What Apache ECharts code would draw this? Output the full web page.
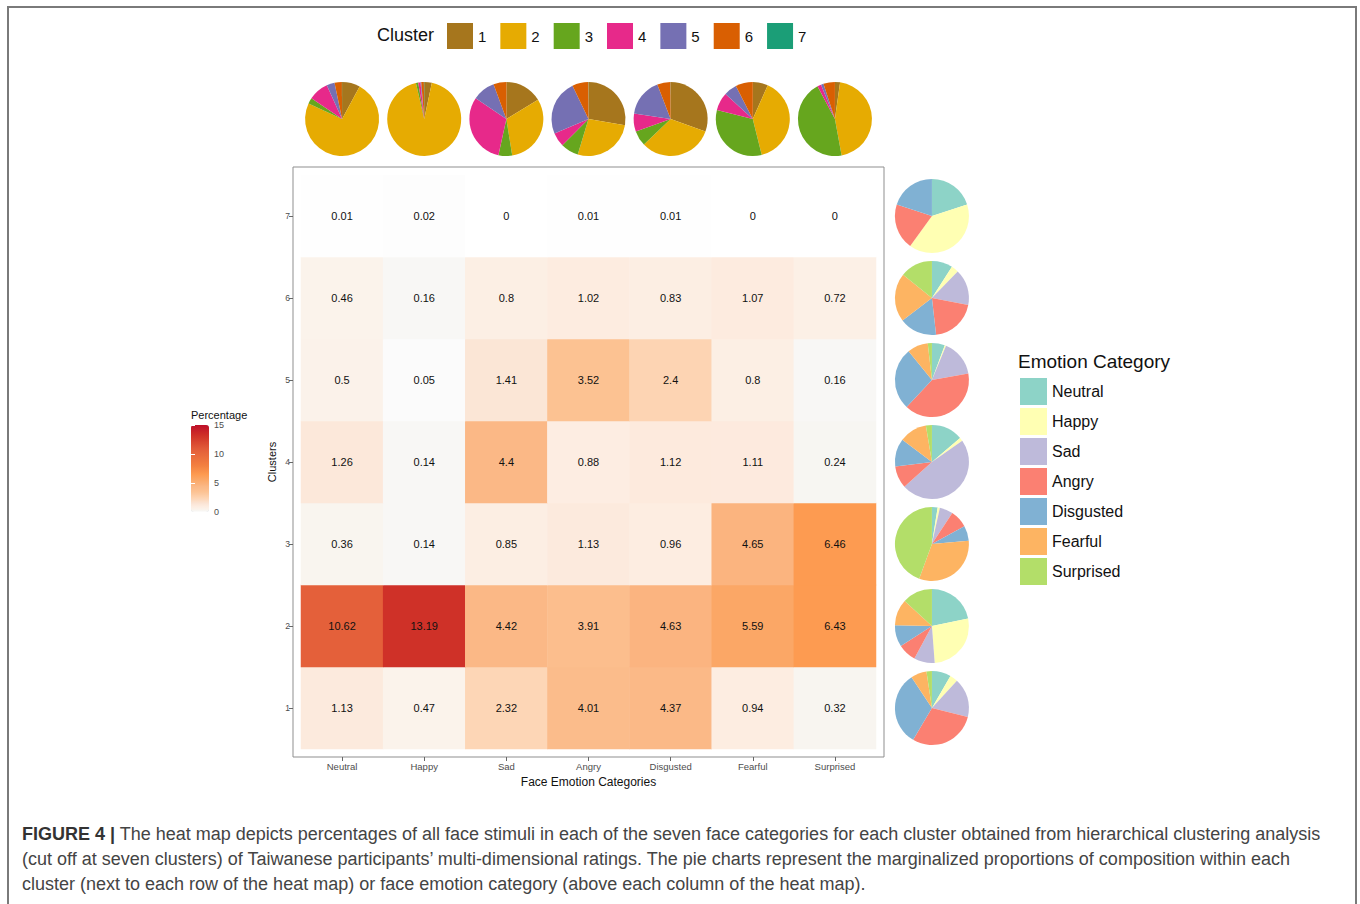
<!DOCTYPE html>
<html>
<head>
<meta charset="utf-8">
<script src="https://cdn.jsdelivr.net/npm/echarts@6/dist/echarts.min.js"></script>
<style>
  html, body { margin: 0; padding: 0; background: #fff; }
  #frame { position: absolute; left: 7px; top: 6px; width: 1350px; height: 920px;
           border: 2px solid #7a7a7a; box-sizing: border-box; }
  #chart { position: absolute; left: 0; top: 0; width: 1360px; height: 904px; }
</style>
</head>
<body>
<div id="frame"></div>
<div id="chart"></div>
<script>
// Face emotion categories (columns) and clusters (rows, bottom to top)
const emotions = ['Neutral', 'Happy', 'Sad', 'Angry', 'Disgusted', 'Fearful', 'Surprised'];
const clusters = ['1', '2', '3', '4', '5', '6', '7'];

// Percentage of all face stimuli per cluster, one value per emotion category
const cluster1 = [1.13, 0.47, 2.32, 4.01, 4.37, 0.94, 0.32];
const cluster2 = [10.62, 13.19, 4.42, 3.91, 4.63, 5.59, 6.43];
const cluster3 = [0.36, 0.14, 0.85, 1.13, 0.96, 4.65, 6.46];
const cluster4 = [1.26, 0.14, 4.4, 0.88, 1.12, 1.11, 0.24];
const cluster5 = [0.5, 0.05, 1.41, 3.52, 2.4, 0.8, 0.16];
const cluster6 = [0.46, 0.16, 0.8, 1.02, 0.83, 1.07, 0.72];
const cluster7 = [0.01, 0.02, 0, 0.01, 0.01, 0, 0];
const clusterRows = [cluster1, cluster2, cluster3, cluster4, cluster5, cluster6, cluster7];

// Colour-bar tick labels
const percentTicks = [0, 5, 10, 15];

// Palettes
const clusterColors = ['#a6761d', '#e6ab02', '#66a61e', '#e7298a', '#7570b3', '#d95f02', '#1b9e77'];
const emotionColors = ['#8dd3c7', '#ffffb3', '#bebada', '#fb8072', '#80b1d3', '#fdb462', '#b3de69'];

// Anchor colours of the percentage scale: [percentage, colour]
const heatAnchors = [
  [0, '#ffffff'], [0.03, '#fcfcfc'], [0.1, '#f8f8f7'], [0.25, '#f7f6f2'], [0.45, '#fbf3eb'],
  [1, '#fdece0'], [1.5, '#fbe4d4'], [2.4, '#fdd4b3'], [3.5, '#fcc292'], [4.4, '#fbb886'],
  [5.6, '#fba766'], [6.5, '#fd9a50'], [8, '#f38040'], [10.6, '#e4603a'], [13.2, '#cf3128'],
  [15, '#bd0f29']
];
const SCALE_MAX = 15;
const SCALE_STEPS = 300;

function hexToRgb(h) {
  return [parseInt(h.slice(1, 3), 16), parseInt(h.slice(3, 5), 16), parseInt(h.slice(5, 7), 16)];
}
function colourAt(v) {
  for (let i = 1; i < heatAnchors.length; i++) {
    const [v1, c1] = heatAnchors[i];
    const [v0, c0] = heatAnchors[i - 1];
    if (v <= v1) {
      const t = (v - v0) / (v1 - v0);
      const a = hexToRgb(c0), b = hexToRgb(c1);
      return 'rgb(' + a.map((x, k) => Math.round(x + (b[k] - x) * t)).join(',') + ')';
    }
  }
  return heatAnchors[heatAnchors.length - 1][1];
}
// evenly spaced ramp for the visualMap
const heatRamp = [];
for (let i = 0; i <= SCALE_STEPS; i++) heatRamp.push(colourAt(SCALE_MAX * i / SCALE_STEPS));

const FONT = 'Liberation Sans, Arial, sans-serif';

// heatmap cells: [emotion index, cluster index, value]
const heatData = [];
clusterRows.forEach((row, ci) => row.forEach((v, ei) => heatData.push([ei, ci, v])));

const chart = echarts.init(document.getElementById('chart'), null, { renderer: 'svg' });

const captionText =
  '{b|FIGURE 4 |} The heat map depicts percentages of all face stimuli in each of the seven face categories for each cluster obtained from hierarchical clustering analysis\n' +
  '(cut off at seven clusters) of Taiwanese participants\u2019 multi-dimensional ratings. The pie charts represent the marginalized proportions of composition within each\n' +
  'cluster (next to each row of the heat map) or face emotion category (above each column of the heat map).';

chart.setOption({
  animation: false,
  textStyle: { fontFamily: FONT },
  title: [
    { text: 'Cluster', left: 377, top: 26, padding: 0,
      textStyle: { fontSize: 18, fontWeight: 'normal', color: '#111', fontFamily: FONT } },
    { text: 'Emotion Category', left: 1018, top: 352, padding: 0,
      textStyle: { fontSize: 19, fontWeight: 'normal', color: '#111', fontFamily: FONT } },
    { text: 'Percentage', left: 191, top: 409, padding: 0,
      textStyle: { fontSize: 11, fontWeight: 'normal', color: '#111', fontFamily: FONT } },
    { text: captionText, left: 22, top: 821, padding: 0,
      textStyle: {
        fontSize: 18, fontWeight: 'normal', color: '#444', fontFamily: FONT, lineHeight: 25,
        rich: { b: { fontSize: 18, fontWeight: 'bold', color: '#333', fontFamily: FONT, lineHeight: 25 } }
      } }
  ],
  grid: [
    // heat map tiles
    { left: 301, top: 175, width: 575, height: 574 },
    // colour bar axis
    { left: 191, top: 425, width: 18, height: 87 },
    // panel border
    { left: 293, top: 167, width: 591, height: 590, show: true, borderColor: '#8f8f8f', borderWidth: 1,
      backgroundColor: 'transparent' }
  ],
  xAxis: [
    { type: 'category', gridIndex: 0, data: emotions, position: 'bottom', offset: 8,
      name: 'Face Emotion Categories', nameLocation: 'middle', nameGap: 18,
      nameTextStyle: { fontSize: 12, color: '#111', fontFamily: FONT },
      axisLine: { show: false },
      axisTick: { show: true, alignWithLabel: true, length: 4, lineStyle: { color: '#666' } },
      axisLabel: { fontSize: 9.5, color: '#4d4d4d', margin: 4 },
      splitLine: { show: false } },
    { type: 'value', gridIndex: 1, show: false },
    { type: 'value', gridIndex: 2, show: false }
  ],
  yAxis: [
    { type: 'category', gridIndex: 0, data: clusters, position: 'left', offset: 8,
      name: 'Clusters', nameLocation: 'middle', nameGap: 16, nameRotate: 90,
      nameTextStyle: { fontSize: 11, color: '#111', fontFamily: FONT },
      axisLine: { show: false },
      axisTick: { show: true, alignWithLabel: true, length: 4, lineStyle: { color: '#666' } },
      axisLabel: { fontSize: 8.5, color: '#4d4d4d', margin: 3 },
      splitLine: { show: false } },
    { type: 'value', gridIndex: 1, min: 0, max: SCALE_MAX, interval: 5, position: 'right', z: 10,
      axisLine: { show: false },
      axisTick: { show: true, inside: true, length: 4, lineStyle: { color: '#ffffff', width: 1 } },
      axisLabel: { fontSize: 9, color: '#4d4d4d', margin: 5,
                   formatter: v => (percentTicks.indexOf(v) >= 0 ? String(v) : '') },
      splitLine: { show: false } },
    { type: 'value', gridIndex: 1, min: 0, max: SCALE_MAX, interval: 5, position: 'left', z: 10,
      axisLine: { show: false },
      axisTick: { show: true, inside: true, length: 4, lineStyle: { color: '#ffffff', width: 1 } },
      axisLabel: { show: false }, splitLine: { show: false } },
    { type: 'value', gridIndex: 2, show: false }
  ],
  visualMap: {
    type: 'continuous', min: 0, max: SCALE_MAX, seriesIndex: 0, calculable: false, hoverLink: false,
    left: 191, top: 425, itemWidth: 18, itemHeight: 87, padding: 0, text: null, showLabel: false,
    inRange: { color: heatRamp }
  },
  series: [
    { id: 'heat', type: 'heatmap', xAxisIndex: 0, yAxisIndex: 0, data: heatData,
      label: { show: true, fontSize: 11, color: '#111', fontFamily: FONT,
               formatter: p => String(p.value[2]) },
      emphasis: { disabled: true } }
  ]
});

// Pie charts of marginal proportions, placed from the heat map's own axes
const pieSeries = [];
const topY = chart.convertToPixel({ yAxisIndex: 0 }, '7') - 97;
emotions.forEach((emo, ei) => {
  const cx = chart.convertToPixel({ xAxisIndex: 0 }, emo);
  pieSeries.push({
    type: 'pie', center: [cx, topY], radius: 37, silent: true, startAngle: 90, clockwise: true,
    label: { show: false }, labelLine: { show: false },
    data: clusters.map((c, ci) => ({ name: c, value: clusterRows[ci][ei],
                                     itemStyle: { color: clusterColors[ci] } }))
  });
});
const rightX = chart.convertToPixel({ xAxisIndex: 0 }, 'Surprised') + 97;
clusters.forEach((c, ci) => {
  const cy = chart.convertToPixel({ yAxisIndex: 0 }, c);
  pieSeries.push({
    type: 'pie', center: [rightX, cy], radius: 37, silent: true, startAngle: 90, clockwise: true,
    label: { show: false }, labelLine: { show: false },
    data: emotions.map((e, ei) => ({ name: e, value: clusterRows[ci][ei],
                                     itemStyle: { color: emotionColors[ei] } }))
  });
});

chart.setOption({
  legend: [
    { data: clusters, orient: 'horizontal', left: 447, top: 23, padding: 0,
      itemWidth: 26, itemHeight: 26, itemGap: 14, icon: 'rect', selectedMode: false,
      textStyle: { fontSize: 15, color: '#111', fontFamily: FONT } },
    { data: emotions, orient: 'vertical', left: 1020, top: 378, padding: 0,
      itemWidth: 27, itemHeight: 27, itemGap: 3, icon: 'rect', selectedMode: false,
      textStyle: { fontSize: 16, color: '#111', fontFamily: FONT } }
  ],
  series: [{ id: 'heat' }].concat(pieSeries)
});
</script>
</body>
</html>
